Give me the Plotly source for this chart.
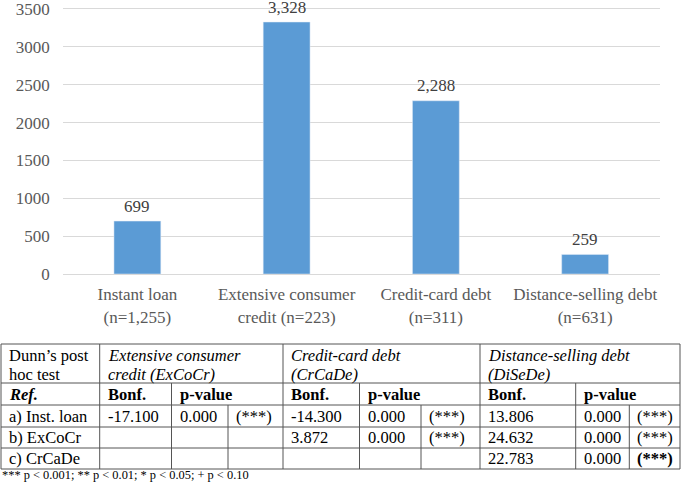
import plotly.graph_objects as go

# ---- data ----
categories = ["Instant loan<br>(n=1,255)", "Extensive consumer<br>credit (n=223)",
              "Credit-card debt<br>(n=311)", "Distance-selling debt<br>(n=631)"]
values = [699, 3328, 2288, 259]
y_ticks = [0, 500, 1000, 1500, 2000, 2500, 3000, 3500]

header_title = ["Dunn’s post", "hoc test"]
group_titles = [["Extensive consumer", "credit (ExCoCr)"],
                ["Credit-card debt", "(CrCaDe)"],
                ["Distance-selling debt", "(DiSeDe)"]]
sub_headers = ["Bonf.", "p-value"]
ref_label = "Ref."
row_labels = ["a) Inst. loan", "b) ExCoCr", "c) CrCaDe"]
row_values = [
    ["-17.100", "0.000", "(***)", "-14.300", "0.000", "(***)", "13.806", "0.000", "(***)"],
    ["", "", "", "3.872", "0.000", "(***)", "24.632", "0.000", "(***)"],
    ["", "", "", "", "", "", "22.783", "0.000", "<b>(***)</b>"],
]
footnote = "*** p < 0.001; ** p < 0.01; * p < 0.05; + p < 0.10"

# ---- layout geometry (pixels) ----
W, H = 685, 486
FONT = "Times New Roman, Liberation Serif, serif"
plot_left, plot_right = 62.75, 659.75
y_max = 3600                      # headroom so the 3500 gridline is kept
zero_px, px_per_unit = 274, 265 / 3500
plot_bottom = zero_px
plot_top = zero_px - y_max * px_per_unit

def px(x):
    return x / W

def py(y):
    return 1 - y / H

fig = go.Figure()
fig.add_trace(go.Bar(
    x=categories, y=values, marker_color="#5B9BD5",
    cliponaxis=False, hoverinfo="skip",
))

shapes = []
annotations = []

# data labels above bars
for c, v in zip(categories, values):
    annotations.append(dict(x=c, y=v, xref="x", yref="y", text=f"{v:,}",
                            showarrow=False, yanchor="middle", yshift=15,
                            font=dict(family=FONT, size=17, color="#404040")))

# table columns / rows (pixels)
col_x = [1, 99.7, 171.5, 228, 283, 359.5, 421, 480, 575.7, 629.3, 680]
row_y = [344, 383, 405, 427, 448, 469]
LINE = dict(color="#555555", width=1)

def hline(y, x0=col_x[0], x1=col_x[-1]):
    shapes.append(dict(type="line", xref="paper", yref="paper",
                       x0=px(x0), x1=px(x1), y0=py(y), y1=py(y), line=LINE))

def vline(x, y0, y1):
    shapes.append(dict(type="line", xref="paper", yref="paper",
                       x0=px(x), x1=px(x), y0=py(y0), y1=py(y1), line=LINE))

for y in row_y:
    hline(y)
vline(col_x[0], row_y[0], row_y[-1])
vline(col_x[-1], row_y[0], row_y[-1])
for ci in [1, 4, 7]:
    vline(col_x[ci], row_y[0], row_y[-1])
for ci in [2, 5, 8]:
    vline(col_x[ci], row_y[1], row_y[-1])
for ci in [3, 6, 9]:
    vline(col_x[ci], row_y[2], row_y[-1])

TF = dict(family=FONT, size=16.5, color="black")
PAD = 6

def cell_text(text, x, y):
    annotations.append(dict(text=text, xref="paper", yref="paper",
                            x=px(x + PAD), y=py(y), xanchor="left", yanchor="middle",
                            showarrow=False, font=TF))

hdr_lines_y = [355, 374]
for li, t in enumerate(header_title):
    cell_text(t, col_x[0], hdr_lines_y[li])
for gi, lines in enumerate(group_titles):
    for li, t in enumerate(lines):
        cell_text("<i>" + t + "</i>", col_x[1 + 3 * gi], hdr_lines_y[li])

ref_y = (row_y[1] + row_y[2]) / 2
cell_text("<b><i>" + ref_label + "</i></b>", col_x[0], ref_y)
for gi in range(3):
    cell_text("<b>" + sub_headers[0] + "</b>", col_x[1 + 3 * gi], ref_y)
    cell_text("<b>" + sub_headers[1] + "</b>", col_x[2 + 3 * gi], ref_y)

for ri, lab in enumerate(row_labels):
    yc = (row_y[2 + ri] + row_y[3 + ri]) / 2
    cell_text(lab, col_x[0], yc)
    for ci, v in enumerate(row_values[ri]):
        if v:
            cell_text(v, col_x[1 + ci], yc)

annotations.append(dict(text=footnote, xref="paper", yref="paper", x=0, y=py(475),
                        xanchor="left", yanchor="middle", showarrow=False,
                        font=dict(family=FONT, size=12.4, color="black")))

fig.update_layout(
    width=W, height=H, margin=dict(l=0, r=0, t=0, b=0, autoexpand=False),
    paper_bgcolor="white", plot_bgcolor="white",
    showlegend=False, bargap=0.686,
    font=dict(family=FONT, size=17, color="#595959"),
    xaxis=dict(domain=[px(plot_left), px(plot_right)], showgrid=False,
               showline=True, linecolor="#D9D9D9", linewidth=1,
               tickfont=dict(family=FONT, size=17, color="#595959"),
               ticks="", ticklabelstandoff=5, automargin=False, fixedrange=True),
    yaxis=dict(domain=[py(plot_bottom), py(plot_top)], range=[0, y_max],
               tickvals=y_ticks, tickformat="d", showgrid=True, gridcolor="#D9D9D9",
               gridwidth=1, zeroline=False, showline=False, ticks="",
               ticklabelstandoff=12, ticklabeloverflow="allow",
               automargin=False, fixedrange=True,
               tickfont=dict(family=FONT, size=17, color="#595959")),
    shapes=shapes, annotations=annotations,
)

fig.write_html("out.html", config={"displayModeBar": False},
               post_script="document.body.style.margin='0';")
